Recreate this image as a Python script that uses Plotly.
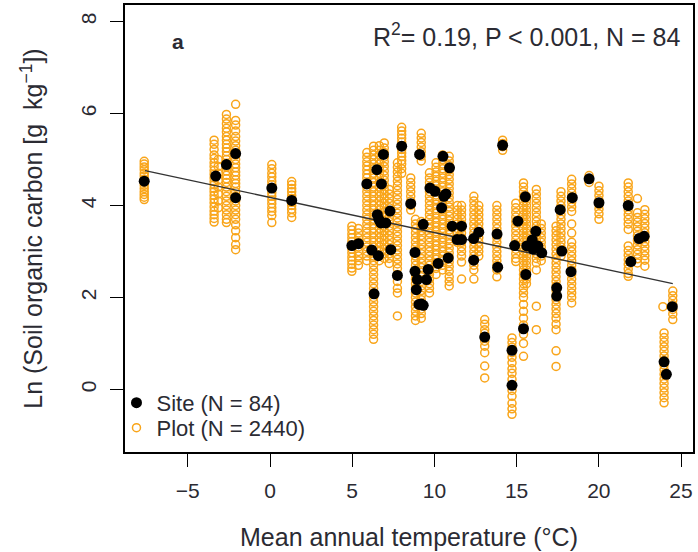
import plotly.graph_objects as go

# ---- Site means (black dots) ----
site_t = [-7.65, -3.30, -2.65, -2.09, -2.09, 0.11, 1.32,
          4.98, 5.38, 5.89, 6.19, 6.33, 6.50, 6.59, 6.53, 6.74, 6.78, 6.90, 7.04, 7.30, 7.35,
          7.75, 8.01, 8.56, 8.82, 8.82, 8.96, 8.90, 9.06, 9.32, 9.10, 9.32, 9.52, 9.62, 9.73,
          10.03, 10.23, 10.52, 10.58, 10.44, 10.84, 10.92, 11.08, 11.38,
          11.65, 11.65, 12.39, 12.39, 12.70, 13.06, 13.81, 13.85, 14.15, 14.72, 14.72, 14.88,
          15.08, 15.53, 15.56, 15.42, 15.62, 16.17, 16.29, 16.53, 17.44, 17.44, 17.65, 17.75,
          18.31, 18.39, 19.41, 20.01, 21.79, 21.95, 22.45, 22.76, 24.47, 23.97, 24.11,
          6.62, 9.20, 15.95, 16.00, 10.70]
site_soc = [4.53, 4.64, 4.89, 5.13, 4.17, 4.38, 4.11,
            3.13, 3.17, 4.47, 3.03, 2.08, 4.78, 2.91, 3.80, 3.62, 4.47, 5.11, 3.62, 3.88, 3.04,
            2.48, 5.29, 4.04, 2.98, 2.57, 2.39, 2.17, 1.85, 1.83, 5.11, 3.59, 2.39, 2.61, 4.38,
            4.31, 2.74, 5.07, 4.20, 3.95, 2.86, 4.82, 3.55, 3.26,
            3.55, 3.26, 3.28, 2.81, 3.42, 1.14, 3.38, 2.66, 5.31, 0.85, 0.09, 3.13,
            3.66, 4.19, 2.50, 1.32, 3.12, 3.44, 3.12, 2.97, 2.21, 2.03, 3.91, 3.01,
            2.56, 4.17, 4.58, 4.06, 4.00, 2.78, 3.28, 3.33, 1.80, 0.60, 0.33,
            3.70, 1.86, 3.25, 3.05, 4.25]

# ---- Plot-level values (orange rings), grouped by site temperature ----
plot_t = [-7.65, -3.40, -3.15, -2.65, -2.09, 0.11, 1.32, 4.98, 5.38, 5.89, 6.30, 6.65, 6.95,
          7.25, 7.75, 8.01, 8.56, 8.85, 9.20, 9.70, 10.10, 10.50, 10.90, 11.40, 11.65, 12.40,
          12.70, 13.06, 13.80, 14.15, 14.72, 14.95, 15.42, 15.60, 16.20, 16.50, 17.40, 17.70,
          18.35, 19.41, 20.01, 21.79, 22.35, 22.80, 23.97, 24.50, 23.90]
plot_soc = [
    [4.96, 4.9, 4.84, 4.78, 4.7, 4.64, 4.57, 4.5, 4.44, 4.37, 4.3, 4.24, 4.18, 4.13],
    [5.42, 5.33, 5.22, 5.1, 5.02, 4.93, 4.85, 4.76, 4.68, 4.6, 4.52, 4.45, 4.37, 4.3, 4.22,
     4.14, 4.06, 3.97, 3.88, 3.8, 3.72, 3.64],
    [5.0, 4.85, 4.7, 4.55, 4.4, 4.25, 4.1, 3.95],
    [5.98, 5.88, 5.78, 5.68, 5.6, 5.5, 5.42, 5.33, 5.25, 5.17, 5.08, 5.0, 4.92, 4.84, 4.75,
     4.66, 4.58, 4.5, 4.4, 4.3, 4.2, 4.1, 4.0, 3.9, 3.8, 3.7, 3.63],
    [6.2, 5.85, 5.75, 5.62, 5.5, 5.4, 5.3, 5.2, 5.1, 5.0, 4.9, 4.82, 4.73, 4.65, 4.56, 4.48,
     4.4, 4.3, 4.2, 4.1, 4.0, 3.9, 3.8, 3.7, 3.58, 3.45, 3.3, 3.15, 3.04],
    [4.89, 4.8, 4.7, 4.62, 4.53, 4.45, 4.37, 4.28, 4.2, 4.12, 4.04, 3.95, 3.87, 3.78, 3.63],
    [4.52, 4.45, 4.37, 4.3, 4.22, 4.15, 4.07, 4.0, 3.92, 3.84, 3.74],
    [3.55, 3.47, 3.38, 3.3, 3.22, 3.13, 3.05, 2.97, 2.88, 2.8, 2.72, 2.64, 2.57],
    [3.5, 3.4, 3.3, 3.2, 3.1, 3.0, 2.9, 2.8, 2.7],
    [5.15, 5.05, 4.95, 4.86, 4.77, 4.68, 4.6, 4.5, 4.4, 4.3, 4.2, 4.1, 4.0, 3.9, 3.8, 3.7,
     3.6, 3.5, 3.4, 3.3, 3.2, 3.1, 3.0, 2.9, 2.8],
    [5.29, 5.2, 5.1, 5.0, 4.9, 4.8, 4.7, 4.6, 4.5, 4.4, 4.3, 4.2, 4.1, 4.0, 3.9, 3.8, 3.7,
     3.6, 3.5, 3.4, 3.3, 3.2, 3.1, 3.0, 2.9, 2.8, 2.7, 2.6, 2.5, 2.4, 2.3, 2.2, 2.1, 2.0,
     1.9, 1.8, 1.7, 1.6, 1.5, 1.4, 1.3, 1.2, 1.09],
    [5.3, 5.2, 5.1, 5.0, 4.9, 4.8, 4.7, 4.6, 4.5, 4.4, 4.3, 4.2, 4.1, 4.0, 3.9, 3.8, 3.7,
     3.6, 3.5, 3.4, 3.3, 3.2, 3.1, 3.0, 2.9, 2.8],
    [5.36, 5.25, 5.15, 5.05, 4.95, 4.85, 4.75, 4.65, 4.55, 4.45, 4.35, 4.25, 4.15, 4.05,
     3.95, 3.85, 3.75, 3.65, 3.55, 3.45, 3.35, 3.25, 3.15, 3.05, 2.95, 2.85],
    [4.35, 4.25, 4.15, 4.05, 3.95, 3.85, 3.75, 3.65, 3.55, 3.45, 3.35, 3.25, 3.15, 3.05,
     2.95, 2.85, 2.74],
    [4.93, 4.83, 4.73, 4.63, 4.53, 4.43, 4.33, 4.23, 4.13, 4.03, 3.93, 3.83, 3.73, 3.63,
     3.53, 3.43, 3.33, 3.23, 3.13, 3.03, 2.93, 2.83, 2.73, 2.63, 2.5, 2.35, 2.2, 2.1, 1.6],
    [5.7, 5.62, 5.54, 5.46, 5.38, 5.3, 5.22, 5.14, 5.06, 4.98, 4.9, 4.8, 4.7],
    [4.6, 4.5, 4.4, 4.3, 4.2, 4.1, 4.0, 3.9],
    [3.7, 3.6, 3.5, 3.4, 3.3, 3.2, 3.1, 3.0, 2.9, 2.8, 2.7, 2.6, 2.5, 2.4, 2.3, 2.2, 2.1,
     2.0, 1.9, 1.8, 1.7, 1.6, 1.5],
    [5.57, 5.47, 5.37, 5.27, 5.17, 5.07, 4.97, 3.65, 3.55, 3.45, 3.35, 3.25, 3.15, 3.05,
     2.95, 2.85, 2.75, 2.65, 2.55, 2.45, 2.35, 2.25, 2.15, 2.05, 1.95, 1.85, 1.75, 1.65, 1.55],
    [4.71, 4.6, 4.5, 4.4, 4.3, 4.2, 4.1, 4.0, 3.9, 3.8, 3.7, 3.6, 3.5, 3.4, 3.3, 3.2, 3.1,
     3.0, 2.9, 2.8, 2.7, 2.6, 2.5, 2.4, 2.3, 2.2, 2.1],
    [4.93, 4.83, 4.73, 4.63, 4.53, 4.43, 4.33, 4.23, 4.13, 4.03, 3.93, 3.83, 3.73, 3.63,
     3.53, 3.43, 3.33, 3.23, 3.13, 3.03, 2.93, 2.83, 2.73, 2.63, 2.5],
    [5.1, 5.0, 4.9, 4.8, 4.7, 4.6, 4.5, 4.4, 4.3, 4.2, 4.1, 4.0, 3.9, 3.8, 3.7, 3.6, 3.5,
     3.4, 3.3, 3.2, 3.1, 3.0, 2.9, 2.8, 2.7, 2.6],
    [5.07, 4.97, 4.87, 4.77, 4.67, 4.57, 4.47, 4.37, 4.27, 4.17, 4.07, 3.97, 3.87, 3.77,
     3.67, 3.57, 3.47, 3.37, 3.27, 3.17, 3.07, 2.97, 2.87, 2.77, 2.67, 2.57, 2.45, 2.35, 2.25],
    [4.0, 3.9, 3.8, 3.7, 3.6, 3.5, 3.4, 3.3, 3.2],
    [4.0, 3.9, 3.8, 3.7, 3.6, 3.5, 3.4, 3.3, 3.2, 3.1, 3.0, 2.9, 2.77, 2.4],
    [4.2, 4.1, 4.0, 3.9, 3.8, 3.7, 3.6, 3.5, 3.4, 3.3, 3.2, 3.1, 3.0, 2.9, 2.8, 2.7, 2.6, 2.4],
    [4.0, 3.9, 3.8, 3.7, 3.6, 3.5, 3.4, 3.3, 3.2, 3.1, 3.0, 2.9],
    [1.52, 1.42, 1.3, 1.22, 1.05, 0.94, 0.8, 0.51, 0.25],
    [4.0, 3.9, 3.8, 3.7, 3.6, 3.5, 3.4, 3.3, 3.2, 3.1, 3.0, 2.9, 2.8, 2.7, 2.6, 2.45],
    [5.42, 5.35, 5.28, 5.2],
    [1.12, 1.02, 0.92, 0.8, 0.7, 0.58, 0.45, 0.35, 0.22, 0.1, -0.02, -0.15, -0.3, -0.42, -0.54],
    [4.05, 3.95, 3.85, 3.75, 3.65, 3.55, 3.45, 3.35, 3.25, 3.15, 3.05, 2.95, 2.85, 2.78],
    [4.49, 4.4, 4.3, 4.2, 4.1, 4.0, 3.9, 3.8, 3.7, 3.6, 3.5, 3.4, 3.3, 3.2, 3.1, 3.0, 2.9,
     2.8, 2.7, 2.6, 2.5, 2.4, 2.3, 2.2, 2.1, 2.0, 1.85, 1.7, 1.55, 1.4, 1.2, 1.0, 0.72],
    [4.2, 4.1, 4.0, 3.9, 3.8, 3.7, 3.6, 3.5, 3.4, 3.3, 3.2, 3.1, 3.0, 2.9, 2.8, 2.7, 2.6,
     2.5, 2.4, 2.3],
    [4.35, 4.25, 4.15, 4.05, 3.95, 3.85, 3.75, 3.65, 3.55, 3.45, 3.35, 3.25, 3.15, 3.05,
     2.95, 2.85, 2.75, 2.6, 1.81, 1.3],
    [3.6, 3.5, 3.4, 3.3, 3.2, 3.1, 3.0, 2.9, 2.8],
    [3.55, 3.45, 3.35, 3.25, 3.15, 3.05, 2.95, 2.85, 2.75, 2.65, 2.55, 2.45, 2.35, 2.25,
     2.15, 2.05, 1.95, 1.85, 1.75, 1.65, 1.55, 1.42, 1.3, 0.84, 0.5],
    [4.3, 4.2, 4.1, 4.0, 3.9, 3.8, 3.7, 3.6, 3.5, 3.4, 3.3, 3.2, 3.1, 3.0, 2.9],
    [4.57, 4.47, 4.37, 4.27, 4.17, 4.07, 3.97, 3.87, 3.6, 3.4, 3.2, 3.1, 3.0, 2.9, 2.8, 2.7,
     2.6, 2.5, 2.4, 2.3, 2.2, 2.1, 2.0, 1.88],
    [4.65, 4.58, 4.5],
    [4.42, 4.32, 4.22, 4.12, 4.02, 3.92, 3.82, 3.7],
    [4.49, 4.4, 4.3, 4.2, 4.1, 4.0, 3.9, 3.8, 3.7, 3.6, 3.48, 3.12, 3.02, 2.92, 2.82, 2.72,
     2.62, 2.52, 2.46],
    [4.15, 3.84, 3.74, 3.64, 3.54, 3.44, 3.34, 3.24, 3.14, 3.04, 2.94, 2.84, 2.75],
    [3.91, 3.81, 3.71, 3.61, 3.51, 3.41, 3.31, 3.21, 3.11, 3.01, 2.91, 2.81, 2.68],
    [1.23, 1.13, 1.03, 0.93, 0.83, 0.73, 0.63, 0.53, 0.43, 0.33, 0.23, 0.13, 0.03, -0.07,
     -0.18, -0.29],
    [2.14, 2.04, 1.94, 1.84, 1.74, 1.64, 1.52],
    [1.80],
]

# ---- Fitted regression line ----
fit_t = [-7.6, 24.5]
fit_soc = [4.76, 2.30]

x_ticks = [-5, 0, 5, 10, 15, 20, 25]
y_ticks = [0, 2, 4, 6, 8]

ORANGE = "#F9A51A"
FONT = "Liberation Sans, Arial, sans-serif"
TXT = "#2b2b33"

px, py = [], []
for t, vals in zip(plot_t, plot_soc):
    px.extend([t] * len(vals))
    py.extend(vals)

fig = go.Figure()
fig.add_trace(go.Scatter(
    x=px, y=py, mode="markers", name="Plot (N = 2440)", legend="legend2",
    marker=dict(symbol="circle-open", size=8, color=ORANGE, line=dict(width=1.5, color=ORANGE)),
))
fig.add_trace(go.Scatter(
    x=fit_t, y=fit_soc, mode="lines", showlegend=False,
    line=dict(color="#333333", width=1.4),
))
fig.add_trace(go.Scatter(
    x=site_t, y=site_soc, mode="markers", name="Site (N = 84)", legend="legend",
    marker=dict(symbol="circle", size=11, color="black"),
))

leg_common = dict(xanchor="left", yanchor="middle", bgcolor="rgba(0,0,0,0)",
                  font=dict(size=22, color=TXT, family=FONT), itemwidth=30)

fig.update_layout(
    width=698, height=552,
    margin=dict(l=125, r=3, t=5, b=100),
    paper_bgcolor="white", plot_bgcolor="white",
    font=dict(family=FONT, color=TXT, size=21),
    showlegend=True,
    legend=dict(x=-0.015, y=0.110, **leg_common),
    legend2=dict(x=-0.015, y=0.054, **leg_common),
    xaxis=dict(range=[-8.82, 25.73], tickvals=x_ticks, ticks="outside", ticklen=13,
               tickwidth=1.3, tickcolor="black", showline=True, mirror=True,
               linecolor="black", linewidth=1.6, showgrid=False, zeroline=False,
               tickfont=dict(size=21, color=TXT), ticklabelstandoff=6,
               title=dict(text="Mean annual temperature (°C)", font=dict(size=25, color=TXT),
                          standoff=27)),
    yaxis=dict(range=[-1.36, 8.36], tickvals=y_ticks, ticks="outside", ticklen=13,
               tickwidth=1.3, tickcolor="black", showline=True, mirror=True,
               linecolor="black", linewidth=1.6, showgrid=False, zeroline=False,
               tickangle=-90, tickfont=dict(size=21, color=TXT), ticklabelstandoff=6,
               title=dict(text="Ln (Soil organic carbon [g  kg<sup>−1</sup>])",
                          font=dict(size=25, color=TXT), standoff=27)),
    annotations=[
        dict(x=-5.6, y=7.57, xref="x", yref="y", text="<b>a</b>", showarrow=False,
             font=dict(size=21, color=TXT, family=FONT)),
        dict(x=25.15, y=7.71, xref="x", yref="y", xanchor="right",
             text="R<sup>2</sup>= 0.19, P &lt; 0.001, N = 84", showarrow=False,
             font=dict(size=25, color=TXT, family=FONT)),
    ],
)

fig.write_html("out.html", config={"displayModeBar": False},
               post_script="document.body.style.margin='0';document.body.style.overflow='hidden';")
